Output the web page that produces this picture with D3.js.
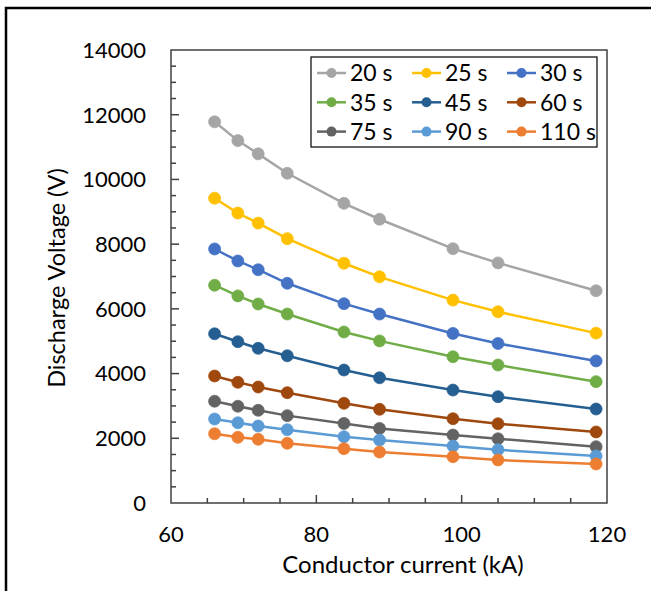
<!DOCTYPE html>
<html>
<head>
<meta charset="utf-8">
<script src="https://cdn.jsdelivr.net/npm/d3@7"></script>
<style>
  html, body { margin: 0; padding: 0; background: #fff; }
  text { font-family: Lato, "Open Sans", sans-serif; fill: #000; }
</style>
</head>
<body>
<div id="chart"></div>
<script>
// conductor current (kA)
const currents = [66, 69.2, 72, 76, 83.8, 88.7, 98.8, 105, 118.5];

const seriesNames = ['20 s', '25 s', '30 s', '35 s', '45 s', '60 s', '75 s', '90 s', '110 s'];
const seriesColors = ['#a5a5a5', '#ffc000', '#4472c4', '#70ad47', '#255e91', '#9e480e', '#636363', '#5b9bd5', '#ed7d31'];

// discharge voltage (V), one list per series
const v20 = [11780, 11200, 10790, 10190, 9260, 8770, 7860, 7420, 6560];
const v25 = [9420, 8960, 8650, 8170, 7410, 6990, 6270, 5910, 5250];
const v30 = [7850, 7480, 7210, 6790, 6160, 5840, 5240, 4930, 4390];
const v35 = [6730, 6400, 6150, 5840, 5285, 5010, 4520, 4265, 3750];
const v45 = [5230, 4985, 4780, 4550, 4110, 3870, 3490, 3285, 2905];
const v60 = [3925, 3730, 3585, 3410, 3080, 2895, 2605, 2450, 2195];
const v75 = [3145, 2990, 2865, 2700, 2460, 2305, 2100, 1985, 1740];
const v90 = [2595, 2480, 2380, 2265, 2050, 1945, 1760, 1645, 1455];
const v110 = [2140, 2030, 1970, 1845, 1680, 1575, 1430, 1330, 1205];
const seriesValues = [v20, v25, v30, v35, v45, v60, v75, v90, v110];

const xTickLabels = [60, 80, 100, 120];
const yTickLabels = [0, 2000, 4000, 6000, 8000, 10000, 12000, 14000];

const width = 651;
const height = 591;
const plot = { left: 171, right: 607, top: 50, bottom: 503 };

const svg = d3.select('#chart').append('svg')
  .attr('width', width)
  .attr('height', height);

svg.append('rect')
  .attr('width', width)
  .attr('height', height)
  .attr('fill', '#fff');

// outer frame, cut off at right and bottom
svg.append('path')
  .attr('d', `M6,${height + 2}V8H${width + 2}`)
  .attr('fill', 'none')
  .attr('stroke', '#000')
  .attr('stroke-width', 2.5);

const x = d3.scaleLinear().domain([60, 120]).range([plot.left, plot.right]);
const y = d3.scaleLinear().domain([0, 14000]).range([plot.bottom, plot.top]);

// minor ticks, pointing inward
const xMinor = d3.range(65, 120, 5).filter((d) => d % 20 !== 0);
const yMinor = d3.range(500, 14000, 500).filter((d) => d % 2000 !== 0);

const ticks = svg.append('g').attr('class', 'ticks')
  .attr('stroke', '#404040')
  .attr('stroke-width', 1.5);

ticks.selectAll('line.xmin').data(xMinor).enter()
  .append('line')
  .attr('x1', (d) => x(d)).attr('x2', (d) => x(d))
  .attr('y1', plot.bottom).attr('y2', plot.bottom - 5);
ticks.selectAll('line.xmaj').data(xTickLabels.slice(1, -1)).enter()
  .append('line')
  .attr('x1', (d) => x(d)).attr('x2', (d) => x(d))
  .attr('y1', plot.bottom).attr('y2', plot.bottom - 8);
ticks.selectAll('line.ymin').data(yMinor).enter()
  .append('line')
  .attr('x1', plot.left).attr('x2', plot.left + 5)
  .attr('y1', (d) => y(d)).attr('y2', (d) => y(d));
ticks.selectAll('line.ymaj').data(yTickLabels.slice(1, -1)).enter()
  .append('line')
  .attr('x1', plot.left).attr('x2', plot.left + 8)
  .attr('y1', (d) => y(d)).attr('y2', (d) => y(d));

// plot border
svg.append('rect')
  .attr('x', plot.left)
  .attr('y', plot.top)
  .attr('width', plot.right - plot.left)
  .attr('height', plot.bottom - plot.top)
  .attr('fill', 'none')
  .attr('stroke', '#404040')
  .attr('stroke-width', 1.5);

// tick labels
svg.append('g').selectAll('text').data(yTickLabels).enter()
  .append('text')
  .attr('x', 146)
  .attr('y', (d) => y(d))
  .attr('dy', '0.36em')
  .attr('text-anchor', 'end')
  .style('font-size', '22px')
  .text((d) => d);

svg.append('g').selectAll('text').data(xTickLabels).enter()
  .append('text')
  .attr('x', (d) => x(d))
  .attr('y', 542)
  .attr('text-anchor', 'middle')
  .style('font-size', '22px')
  .text((d) => d);

// axis titles
svg.append('text')
  .attr('x', 403)
  .attr('y', 573)
  .attr('text-anchor', 'middle')
  .style('font-size', '24px')
  .text('Conductor current (kA)');

svg.append('text')
  .attr('transform', 'translate(65,278) rotate(-90)')
  .attr('text-anchor', 'middle')
  .style('font-size', '23.5px')
  .text('Discharge Voltage (V)');

// series
const line = d3.line()
  .x((d, i) => x(currents[i]))
  .y((d) => y(d));

const series = svg.append('g').attr('class', 'series')
  .selectAll('g').data(seriesValues).enter()
  .append('g')
  .attr('fill', (d, i) => seriesColors[i])
  .attr('stroke', (d, i) => seriesColors[i]);

series.append('path')
  .attr('d', (d) => line(d))
  .attr('fill', 'none')
  .attr('stroke-width', 2.5);

series.selectAll('circle').data((d) => d).enter()
  .append('circle')
  .attr('cx', (d, i) => x(currents[i]))
  .attr('cy', (d) => y(d))
  .attr('r', 6)
  .attr('stroke-width', 0.75);

// legend
const legendBox = { x: 311, y: 57, w: 286, h: 90 };
const legend = svg.append('g').attr('class', 'legend');
legend.append('rect')
  .attr('x', legendBox.x)
  .attr('y', legendBox.y)
  .attr('width', legendBox.w)
  .attr('height', legendBox.h)
  .attr('fill', '#fff')
  .attr('stroke', '#000')
  .attr('stroke-width', 1.2);

const item = legend.selectAll('g.item').data(seriesNames).enter()
  .append('g')
  .attr('class', 'item')
  .attr('transform', (d, i) => `translate(${317 + (i % 3) * 95},${73 + Math.floor(i / 3) * 29.3})`);

item.append('line')
  .attr('x1', 0).attr('x2', 29)
  .attr('stroke', (d, i) => seriesColors[i])
  .attr('stroke-width', 2.5);
item.append('circle')
  .attr('cx', 14.5)
  .attr('r', 5)
  .attr('fill', (d, i) => seriesColors[i]);
item.append('text')
  .attr('x', 33)
  .attr('dy', '0.36em')
  .style('font-size', '23px')
  .text((d) => d);
</script>
</body>
</html>
